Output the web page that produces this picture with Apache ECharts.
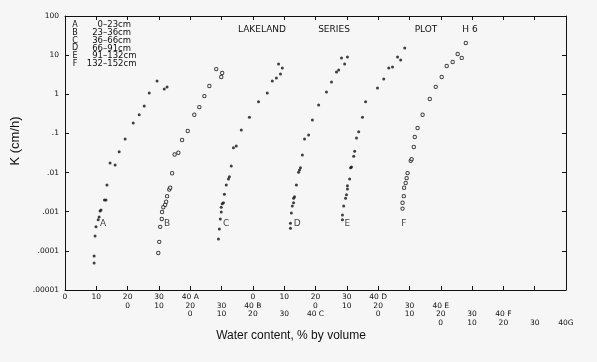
<!DOCTYPE html>
<html><head><meta charset="utf-8">
<script src="https://cdn.jsdelivr.net/npm/echarts@6/dist/echarts.min.js"></script>
<style>html,body{margin:0;padding:0;background:#f6f6f6}#c{width:597px;height:362px}</style>
</head><body><div id="c"></div>
<script>
// Horizons (legend)
const horizons = ['A', 'B', 'C', 'D', 'E', 'F'];
const depthTop = ['0', '23', '36', '66', '91', '132'];
const depthBottom = ['23', '36', '66', '91', '132', '152'];
// each horizon's water-content scale starts at this point of the shared axis
const scaleOffset = [0, 20, 40, 60, 80, 100];

// Water content (% by volume) and K (cm/h) per horizon
const waterA = [9.3, 9.3, 9.6, 9.9, 10.6, 10.9, 11.2, 11.5, 12.6, 13.1, 13.4, 14.4, 16.0, 17.3, 19.2, 21.8, 23.7, 25.3, 26.9, 29.4, 31.7, 32.6];
const kA     = [4.9e-5, 7.4e-5, 2.4e-4, 4.1e-4, 6.2e-4, 7.3e-4, 1.05e-3, 1.1e-3, 2.0e-3, 2.0e-3, 4.8e-3, 0.0175, 0.0155, 0.034, 0.072, 0.186, 0.30, 0.50, 1.08, 2.19, 1.36, 1.53];
const waterB = [9.8, 10.1, 10.4, 10.9, 11.0, 11.4, 12.0, 12.3, 12.6, 13.3, 13.6, 14.2, 15.0, 16.2, 17.4, 19.2, 21.3, 22.9, 24.5, 26.1, 28.3, 30.2, 29.9];
const kB     = [8.8e-5, 1.7e-4, 4.1e-4, 6.5e-4, 9.8e-4, 1.3e-3, 1.5e-3, 1.8e-3, 2.5e-3, 3.7e-3, 4.1e-3, 9.6e-3, 0.029, 0.032, 0.068, 0.115, 0.30, 0.47, 0.90, 1.63, 4.4, 3.5, 2.76];
const waterC = [9.0, 9.3, 9.6, 9.9, 9.9, 10.2, 10.6, 10.9, 11.5, 12.2, 12.5, 13.1, 13.8, 14.7, 16.3, 18.9, 21.8, 24.6, 26.2, 27.5, 28.8, 29.4, 28.2];
const kC     = [2.0e-4, 3.6e-4, 6.5e-4, 9.8e-4, 1.3e-3, 1.6e-3, 1.7e-3, 2.8e-3, 4.8e-3, 6.9e-3, 7.8e-3, 0.0148, 0.043, 0.048, 0.123, 0.26, 0.64, 1.08, 2.19, 2.6, 3.3, 4.7, 5.9];
const waterD = [12.0, 12.0, 12.3, 12.6, 13.0, 13.0, 13.3, 13.9, 14.6, 14.9, 15.2, 15.8, 16.5, 17.8, 19.0, 21.0, 23.5, 25.1, 26.7, 27.4, 29.3, 28.3, 30.2];
const kD     = [3.8e-4, 5.1e-4, 9.3e-4, 1.4e-3, 1.7e-3, 2.2e-3, 2.4e-3, 4.8e-3, 0.0102, 0.0116, 0.0132, 0.028, 0.072, 0.091, 0.22, 0.53, 1.14, 2.05, 3.7, 4.2, 5.9, 8.5, 8.9];
const waterE = [8.6, 8.6, 9.0, 9.6, 9.9, 10.2, 10.2, 10.9, 11.2, 11.5, 12.2, 12.5, 13.1, 13.8, 15.0, 16.0, 19.8, 21.8, 23.4, 24.6, 27.2, 26.2, 28.5];
const kE     = [6.2e-4, 8.3e-4, 1.4e-3, 2.2e-3, 2.7e-3, 3.8e-3, 4.6e-3, 6.9e-3, 0.0132, 0.0139, 0.026, 0.035, 0.076, 0.11, 0.26, 0.64, 1.45, 2.45, 4.7, 5.0, 7.5, 8.9, 15.2];
const waterF = [7.8, 7.8, 8.2, 8.3, 8.8, 9.1, 9.4, 10.4, 10.7, 11.4, 11.7, 12.6, 14.2, 16.5, 18.4, 20.3, 21.9, 23.8, 25.4, 26.7, 28.0];
const kF     = [1.2e-3, 1.7e-3, 2.5e-3, 4.1e-3, 5.4e-3, 7.2e-3, 9.7e-3, 0.020, 0.022, 0.045, 0.081, 0.138, 0.30, 0.76, 1.55, 2.76, 5.3, 6.7, 10.7, 8.5, 20.4];

// Curve-letter annotations (water content on own scale, K)
const curveLabelWater = [12.2, 12.6, 11.5, 14.2, 10.2, 8.2];
const curveLabelK = [4.9e-4, 4.9e-4, 4.9e-4, 4.9e-4, 4.9e-4, 4.9e-4];

// Tick labels
const yTickLabels = ['.00001', '.0001', '.001', '.01', '.1', '1', '10', '100'];
const xRow1Labels = ['0','10','20','30','40 A','','0','10','20','30','40 D','','','','','',''];
const xRow2Labels = ['','','0','10','20','30','40 B','','0','10','20','30','40 E','','','',''];
const xRow3Labels = ['','','','','0','10','20','30','40 C','','0','10','20','30','40 F','',''];
const xRow4Labels = ['','','','','','','','','','','','','0','10','20','30','40G'];

const titleWords = ['LAKELAND', 'SERIES', 'PLOT', 'H 6'];
const xTitle = 'Water content, % by volume';
const yTitle = 'K (cm/h)';

const waters = [waterA, waterB, waterC, waterD, waterE, waterF];
const ks = [kA, kB, kC, kD, kE, kF];
const hollow = [false, true, false, false, false, true];

const FONT = 'DejaVu Sans';
const ink = '#111';
const bg = '#f6f6f6';
const gridBox = { left: 65, right: 31, top: 16, bottom: 72 };

function labelAxis(labels, margin, gridIndex, main) {
  return {
    gridIndex: gridIndex, type: 'value', position: 'bottom', min: 0, max: 160, interval: 10,
    axisLine: { show: main, onZero: false, lineStyle: { color: ink, width: 1 } },
    axisTick: { show: main, inside: true, length: 4, lineStyle: { color: ink, width: 1 } },
    splitLine: { show: false },
    axisLabel: {
      show: true, margin: margin, fontFamily: FONT, fontSize: 7.5, color: ink,
      formatter: v => labels[Math.round(v / 10)] || ''
    }
  };
}

const xAxes = [
  labelAxis(xRow1Labels, 3, 0, true),
  {
    gridIndex: 0, type: 'value', position: 'top', min: 0, max: 160, interval: 10,
    axisLine: { show: true, onZero: false, lineStyle: { color: ink } },
    axisTick: { show: true, inside: true, length: 4, lineStyle: { color: ink } },
    axisLabel: { show: false }, splitLine: { show: false }
  },
  labelAxis(xRow2Labels, 12, 1, false),
  labelAxis(xRow3Labels, 20, 2, false),
  labelAxis(xRow4Labels, 29, 3, false)
];

const yAxes = [
  {
    gridIndex: 0, type: 'log', logBase: 10, min: 1e-5, max: 100, position: 'left',
    axisLine: { show: true, onZero: false, lineStyle: { color: ink } },
    axisTick: { show: true, inside: true, length: 4, lineStyle: { color: ink } },
    minorTick: { show: false }, splitLine: { show: false },
    axisLabel: {
      margin: 6, fontFamily: FONT, fontSize: 7.5, color: ink,
      formatter: v => yTickLabels[Math.round(Math.log10(v)) + 5]
    }
  },
  {
    gridIndex: 0, type: 'log', logBase: 10, min: 1e-5, max: 100, position: 'right',
    axisLine: { show: true, onZero: false, lineStyle: { color: ink } },
    axisTick: { show: true, inside: true, length: 4, lineStyle: { color: ink } },
    axisLabel: { show: false }, splitLine: { show: false }
  }
];
[1, 2, 3].forEach(g => yAxes.push({ gridIndex: g, type: 'value', show: false, min: 0, max: 1 }));

const series = horizons.map((h, i) => ({
  type: 'scatter', name: h, xAxisIndex: 0, yAxisIndex: 0,
  symbol: 'circle', symbolSize: hollow[i] ? 3.4 : 3,
  itemStyle: hollow[i]
    ? { color: bg, borderColor: ink, borderWidth: 1 }
    : { color: ink, borderWidth: 0 },
  data: waters[i].map((w, j) => [w + scaleOffset[i], ks[i][j]]),
  silent: true
}));
series.push({
  type: 'scatter', xAxisIndex: 0, yAxisIndex: 0, symbolSize: 0, silent: true,
  label: { show: true, position: 'inside', formatter: p => p.data.name, fontFamily: FONT, fontSize: 9, color: ink },
  data: horizons.map((h, i) => ({ name: h, value: [curveLabelWater[i] + scaleOffset[i], curveLabelK[i]] }))
});

const graphics = [];
const legendTop = 25, legendStep = 7.8;
horizons.forEach((h, i) => {
  const y = legendTop + i * legendStep;
  graphics.push({ type: 'text', x: 75, y: y, style: { text: h, font: '8px ' + FONT, fill: ink, align: 'center', verticalAlign: 'middle' } });
  graphics.push({ type: 'text', x: 103, y: y, style: { text: depthTop[i], font: '8.5px ' + FONT, fill: ink, align: 'right', verticalAlign: 'middle' } });
  graphics.push({ type: 'text', x: 103, y: y, style: { text: '\u2013' + depthBottom[i] + 'cm', font: '8.5px ' + FONT, fill: ink, align: 'left', verticalAlign: 'middle' } });
});
const titleX = [262, 334, 426, 470];
titleWords.forEach((t, i) => {
  graphics.push({ type: 'text', x: titleX[i], y: 30, style: { text: t, font: '9px ' + FONT, fill: ink, align: 'center', verticalAlign: 'middle' } });
});
graphics.push({ type: 'text', x: 291, y: 336, style: { text: xTitle, font: '12px "Liberation Sans"', fill: ink, align: 'center', verticalAlign: 'middle' } });
graphics.push({ type: 'text', x: 15, y: 141, rotation: Math.PI / 2, style: { text: yTitle, font: '13px "Liberation Sans"', fill: ink, align: 'center', verticalAlign: 'middle' } });

const chart = echarts.init(document.getElementById('c'));
chart.setOption({
  backgroundColor: bg,
  animation: false,
  grid: [0, 1, 2, 3].map(() => Object.assign({}, gridBox)),
  xAxis: xAxes,
  yAxis: yAxes,
  series: series,
  graphic: graphics
});
</script>
</body></html>
